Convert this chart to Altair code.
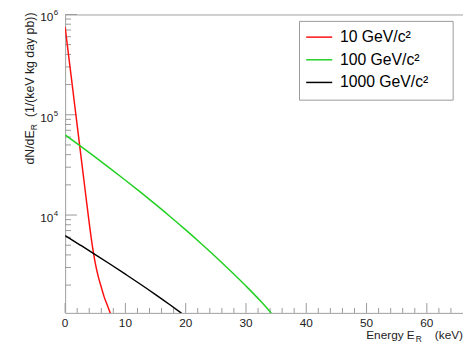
import altair as alt
import pandas as pd

# ---------------- data ----------------
series_names = ["10 GeV/c²", "100 GeV/c²", "1000 GeV/c²"]
series_colors = ["#ff1010", "#22d022", "#000000"]

e_10 = [0, 0.5, 1, 1.5, 2, 2.5, 3, 3.5, 4, 4.5, 5, 5.5, 6, 6.5, 7, 7.5]
r_10 = [750000, 426600, 242700, 138000, 78500, 44700, 25400, 14450, 8320,
        5010, 3310, 2430, 1905, 1510, 1260, 1047]

e_100 = [0, 2.5, 5, 7.5, 10, 12.5, 15, 17.5, 20, 22.5, 25, 27.5, 30, 32.5, 34.2]
r_100 = [63100, 48870, 37760, 29040, 22230, 16900, 12760, 9570, 7110, 5240,
         3820, 2750, 1960, 1370, 1050]

e_1000 = [0, 2.5, 5, 7.5, 10, 12.5, 15, 17.5, 19.3]
r_1000 = [6220, 5020, 4040, 3230, 2570, 2040, 1610, 1260, 1050]

x_major = [0, 10, 20, 30, 40, 50, 60]
x_labels = ["0", "10", "20", "30", "40", "50", "60"]
x_minor = [2, 4, 6, 8, 12, 14, 16, 18, 22, 24, 26, 28, 32, 34, 36, 38,
           42, 44, 46, 48, 52, 54, 56, 58, 62, 64]
y_major = [1e4, 1e5, 1e6]
y_exponents = ["4", "5", "6"]
y_minor = [2000, 3000, 4000, 5000, 6000, 7000, 8000, 9000,
           20000, 30000, 40000, 50000, 60000, 70000, 80000, 90000,
           200000, 300000, 400000, 500000, 600000, 700000, 800000, 900000]

x_title_parts = ["Energy E", "R", "(keV)"]
y_title_parts = ["dN/dE", "R", "(1/(keV kg day pb))"]

# ---------------- build ----------------
rows = []
for name, es, rs in [(series_names[0], e_10, r_10),
                     (series_names[1], e_100, r_100),
                     (series_names[2], e_1000, r_1000)]:
    for e, r in zip(es, rs):
        rows.append({"series": name, "E": e, "rate": r})
df = pd.DataFrame(rows)

W, H = 404, 303
FONT = "Liberation Sans"
TXT = "#222"
xscale = alt.Scale(domain=[0, 66], nice=False, zero=False)
yscale = alt.Scale(type="log", domain=[1057, 1e6], nice=False)

lines = alt.Chart(df).mark_line(strokeWidth=1.5, clip=True, interpolate="monotone").encode(
    x=alt.X("E:Q", scale=xscale, axis=None),
    y=alt.Y("rate:Q", scale=yscale, axis=None),
    color=alt.Color("series:N",
                    scale=alt.Scale(domain=series_names, range=series_colors),
                    legend=alt.Legend(title=None, orient="none", legendX=244, legendY=9,
                                      symbolType="stroke", symbolSize=700,
                                      symbolStrokeWidth=1.5, labelFontSize=16,
                                      labelFont=FONT, labelColor="#000",
                                      padding=0, rowPadding=1, labelOffset=7,
                                      labelLimit=300)),
)

def box_rule(x1, x2, y1, y2):
    return alt.Chart(pd.DataFrame({"a": [0]})).mark_rule(color="#999").encode(
        x=alt.value(x1), x2=alt.value(x2), y=alt.value(y1), y2=alt.value(y2))

box = [box_rule(238, 394, 7, 7), box_rule(238, 394, 87, 87),
       box_rule(238, 238, 7, 87), box_rule(394, 394, 7, 87)]

xmaj = alt.Chart(pd.DataFrame({"t": x_major})).mark_rule(color="#999").encode(
    x=alt.X("t:Q", scale=xscale, axis=None), y=alt.value(H), y2=alt.value(H - 10))
xmin = alt.Chart(pd.DataFrame({"t": x_minor})).mark_rule(color="#999").encode(
    x=alt.X("t:Q", scale=xscale, axis=None), y=alt.value(H), y2=alt.value(H - 5))
ymaj = alt.Chart(pd.DataFrame({"t": y_major})).mark_rule(color="#999").encode(
    y=alt.Y("t:Q", scale=yscale, axis=None), x=alt.value(0), x2=alt.value(12))
ymin = alt.Chart(pd.DataFrame({"t": y_minor})).mark_rule(color="#999").encode(
    y=alt.Y("t:Q", scale=yscale, axis=None), x=alt.value(0), x2=alt.value(6))

xlab = alt.Chart(pd.DataFrame({"t": x_major, "lab": x_labels})).mark_text(
    font=FONT, fontSize=12, align="center", baseline="alphabetic", color=TXT
).encode(x=alt.X("t:Q", scale=xscale, axis=None), y=alt.value(H + 14), text="lab:N")

ylab_df = pd.DataFrame({"t": y_major, "base": ["10"] * 3, "exp": y_exponents})
ylab_base = alt.Chart(ylab_df).mark_text(
    font=FONT, fontSize=12, align="right", baseline="alphabetic", dy=7, color=TXT
).encode(y=alt.Y("t:Q", scale=yscale, axis=None), x=alt.value(-12), text="base:N")
ylab_exp = alt.Chart(ylab_df).mark_text(
    font=FONT, fontSize=8, align="left", baseline="alphabetic", dy=1, color=TXT
).encode(y=alt.Y("t:Q", scale=yscale, axis=None), x=alt.value(-11.5), text="exp:N")

def txt(s, x, y, size=12, align="left", angle=0):
    return alt.Chart(pd.DataFrame({"s": [s]})).mark_text(
        font=FONT, fontSize=size, align=align, baseline="alphabetic",
        angle=angle, color=TXT
    ).encode(x=alt.value(x), y=alt.value(y), text="s:N")

xt1 = txt(x_title_parts[0], 355, 330, align="right")
xt2 = txt(x_title_parts[1], 356, 333, size=8.5, align="left")
xt3 = txt(x_title_parts[2], W, 330, align="right")

yt3 = txt(y_title_parts[2], -31.5, -2, size=12.5, align="right", angle=270)
yt2 = txt(y_title_parts[1], -28.5, 111.3, size=8.8, align="right", angle=270)
yt1 = txt(y_title_parts[0], -31.5, 117.7, size=12.5, align="right", angle=270)

chart = alt.layer(
    xmaj, xmin, ymaj, ymin, lines, *box, xlab,
    ylab_base, ylab_exp, xt1, xt2, xt3, yt1, yt2, yt3
).properties(
    width=W, height=H,
    autosize=alt.AutoSizeParams(type="none"),
    padding={"left": 58, "top": 4, "right": 0, "bottom": 29},
).configure_view(stroke="#a0a0a0", strokeWidth=1)

chart.save("out.html", embed_options={"renderer": "svg", "actions": False})
